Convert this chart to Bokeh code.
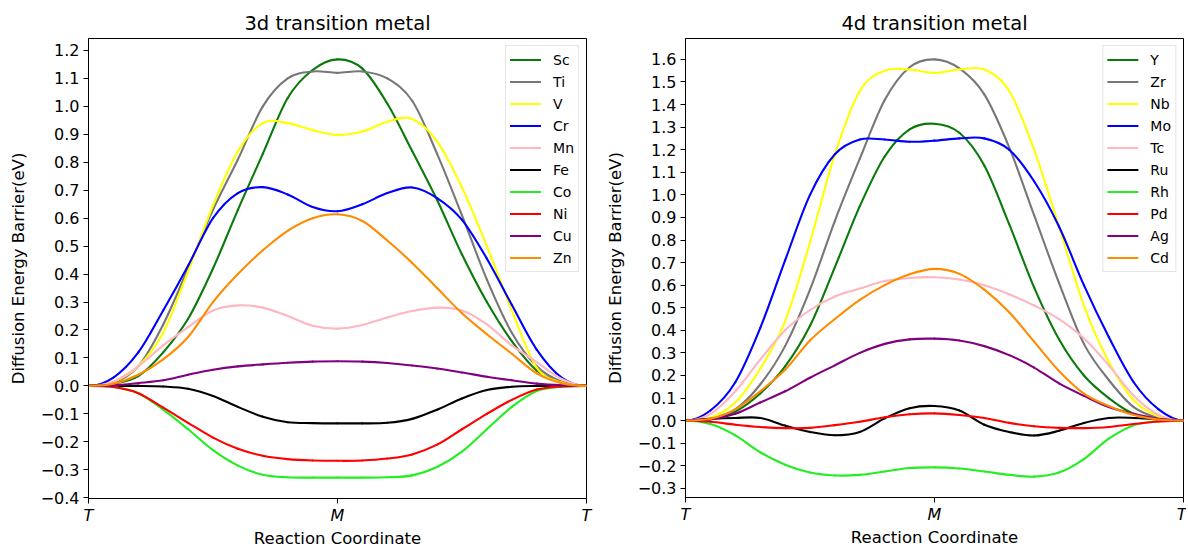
import numpy as np
from bokeh.plotting import figure
from bokeh.layouts import row
from bokeh.models import (ColumnDataSource, Range1d, FixedTicker, CustomJSTickFormatter,
                          Legend, LegendItem)
from bokeh.embed import file_html
from bokeh.resources import INLINE

# ---------------- data ----------------
coord = [0.0, 0.05, 0.1, 0.15, 0.2, 0.25, 0.3, 0.35, 0.4, 0.45, 0.5,
         0.55, 0.6, 0.65, 0.7, 0.75, 0.8, 0.85, 0.9, 0.95, 1.0]
x_tick_pos = [0.0, 0.5, 1.0]
x_tick_labels = ["T", "M", "T"]

yticks_3d = [-0.4, -0.3, -0.2, -0.1, 0.0, 0.1, 0.2, 0.3, 0.4, 0.5, 0.6, 0.7, 0.8,
             0.9, 1.0, 1.1, 1.2]
yticks_4d = [-0.3, -0.2, -0.1, 0.0, 0.1, 0.2, 0.3, 0.4, 0.5, 0.6, 0.7, 0.8, 0.9,
             1.0, 1.1, 1.2, 1.3, 1.4, 1.5, 1.6]

names_3d = ["Sc", "Ti", "V", "Cr", "Mn", "Fe", "Co", "Ni", "Cu", "Zn"]
names_4d = ["Y", "Zr", "Nb", "Mo", "Tc", "Ru", "Rh", "Pd", "Ag", "Cd"]

sc = [0, 0.008, 0.035, 0.12, 0.24, 0.42, 0.63, 0.83, 1.03, 1.13, 1.168,
      1.135, 1.01, 0.84, 0.665, 0.47, 0.30, 0.16, 0.055, 0.012, 0]
ti = [0, 0.012, 0.07, 0.22, 0.42, 0.63, 0.81, 1.0, 1.1, 1.125, 1.12,
      1.125, 1.10, 1.02, 0.83, 0.61, 0.38, 0.19, 0.07, 0.015, 0]
v = [0, 0.015, 0.07, 0.19, 0.41, 0.645, 0.84, 0.94, 0.94, 0.915, 0.898,
     0.91, 0.945, 0.955, 0.875, 0.71, 0.50, 0.27, 0.065, 0.012, 0]
cr = [0, 0.03, 0.12, 0.27, 0.43, 0.60, 0.69, 0.711, 0.685, 0.64, 0.625,
      0.65, 0.69, 0.71, 0.672, 0.594, 0.455, 0.29, 0.13, 0.03, 0]
mn = [0, 0.015, 0.07, 0.145, 0.21, 0.27, 0.288, 0.28, 0.25, 0.215, 0.205,
      0.218, 0.245, 0.268, 0.28, 0.27, 0.22, 0.145, 0.085, 0.025, 0]
fe = [0, 0, 0, -0.002, -0.01, -0.036, -0.075, -0.11, -0.13, -0.133, -0.134,
      -0.134, -0.132, -0.118, -0.085, -0.045, -0.015, -0.003, 0, 0, 0]
co = [0, -0.004, -0.026, -0.085, -0.155, -0.23, -0.285, -0.318, -0.327, -0.328, -0.328,
      -0.328, -0.327, -0.32, -0.29, -0.235, -0.155, -0.075, -0.018, -0.003, 0]
ni = [0, -0.004, -0.026, -0.078, -0.132, -0.185, -0.225, -0.25, -0.262, -0.267, -0.268,
      -0.267, -0.26, -0.245, -0.21, -0.155, -0.1, -0.05, -0.013, -0.002, 0]
cu = [0, 0.002, 0.01, 0.02, 0.04, 0.058, 0.07, 0.077, 0.083, 0.087, 0.088,
      0.087, 0.082, 0.073, 0.062, 0.048, 0.033, 0.02, 0.008, 0.002, 0]
zn = [0, 0.008, 0.04, 0.095, 0.175, 0.30, 0.40, 0.485, 0.555, 0.60, 0.614,
      0.59, 0.52, 0.44, 0.35, 0.26, 0.185, 0.115, 0.045, 0.01, 0]

y_ = [0, 0.008, 0.04, 0.12, 0.24, 0.42, 0.68, 0.95, 1.17, 1.29, 1.315,
      1.275, 1.13, 0.87, 0.59, 0.36, 0.2, 0.1, 0.03, 0.005, 0]
zr = [0, 0.01, 0.05, 0.16, 0.33, 0.58, 0.885, 1.16, 1.42, 1.565, 1.60,
      1.56, 1.445, 1.21, 0.91, 0.61, 0.34, 0.18, 0.06, 0.012, 0]
nb = [0, 0.012, 0.08, 0.23, 0.44, 0.79, 1.18, 1.46, 1.55, 1.555, 1.54,
      1.555, 1.555, 1.46, 1.2, 0.86, 0.51, 0.26, 0.09, 0.018, 0]
mo = [0, 0.045, 0.17, 0.41, 0.71, 1.0, 1.18, 1.245, 1.245, 1.235, 1.24,
      1.25, 1.25, 1.2, 1.06, 0.86, 0.6, 0.37, 0.17, 0.05, 0]
tc = [0, 0.03, 0.13, 0.27, 0.40, 0.49, 0.55, 0.585, 0.618, 0.632, 0.635,
      0.625, 0.60, 0.56, 0.51, 0.45, 0.365, 0.245, 0.11, 0.025, 0]
ru = [0, 0.008, 0.012, 0.012, -0.022, -0.05, -0.065, -0.05, 0.01, 0.055, 0.065,
      0.045, -0.018, -0.05, -0.066, -0.045, -0.01, 0.012, 0.012, 0.005, 0]
rh = [0, -0.015, -0.065, -0.14, -0.195, -0.23, -0.243, -0.24, -0.225, -0.21, -0.207,
      -0.212, -0.225, -0.24, -0.248, -0.23, -0.17, -0.08, -0.02, -0.003, 0]
pd_ = [0, -0.005, -0.018, -0.028, -0.033, -0.032, -0.02, -0.005, 0.015, 0.028, 0.032,
       0.025, 0.012, -0.01, -0.025, -0.032, -0.033, -0.028, -0.015, -0.004, 0]
ag = [0, 0.005, 0.03, 0.08, 0.13, 0.19, 0.245, 0.3, 0.34, 0.36, 0.363,
      0.355, 0.33, 0.29, 0.235, 0.165, 0.11, 0.06, 0.03, 0.008, 0]
cd = [0, 0.008, 0.05, 0.13, 0.225, 0.355, 0.45, 0.535, 0.60, 0.648, 0.672,
      0.65, 0.58, 0.48, 0.35, 0.22, 0.12, 0.065, 0.025, 0.005, 0]

series_3d = [sc, ti, v, cr, mn, fe, co, ni, cu, zn]
series_4d = [y_, zr, nb, mo, tc, ru, rh, pd_, ag, cd]

colors = ["#0a7a0a", "#777777", "#ffff00", "#0000ff", "#ffb6c1",
          "#000000", "#22ee22", "#ff0000", "#800080", "#ff8c00"]

FONT = "DejaVu Sans"


def bezier_data(xs, ys):
    """Smooth Catmull-Rom path through the read points, as cubic Bezier segments."""
    x = np.asarray(xs, float)
    y = np.asarray(ys, float)
    h0 = x[1] - x[0]
    h1 = x[-1] - x[-2]
    xp = np.concatenate([[x[0] - h0], x, [x[-1] + h1]])
    yp = np.concatenate([[y[1]], y, [y[-2]]])
    p0x, p1x, p2x, p3x = xp[:-3], xp[1:-2], xp[2:-1], xp[3:]
    p0y, p1y, p2y, p3y = yp[:-3], yp[1:-2], yp[2:-1], yp[3:]
    return dict(x0=p1x, y0=p1y, x1=p2x, y1=p2y,
                cx0=p1x + (p2x - p0x) / 6, cy0=p1y + (p2y - p0y) / 6,
                cx1=p2x - (p3x - p1x) / 6, cy1=p2y - (p3y - p1y) / 6)


def panel(title, names, series, yticks, width, height, mbl, mbr, mbt, mbb):
    allv = np.concatenate([np.asarray(s, float) for s in series])
    lo, hi = allv.min(), allv.max()
    pad = 0.05 * (hi - lo)
    p = figure(width=width, height=height, output_backend="svg", toolbar_location=None,
               x_range=Range1d(0, 1), y_range=Range1d(lo - pad, hi + pad),
               min_border_left=mbl, min_border_right=mbr,
               min_border_top=mbt, min_border_bottom=mbb)
    p.grid.visible = False
    p.outline_line_color = "black"
    p.outline_line_width = 1
    p.outline_line_alpha = 1
    p.background_fill_color = "white"
    p.border_fill_color = "white"

    p.title.text = title
    p.title.align = "center"
    p.title.text_font = FONT
    p.title.text_font_size = "19.5px"
    p.title.text_font_style = "normal"
    p.title.text_color = "black"
    p.title.standoff = 8

    for ax in (p.xaxis[0], p.yaxis[0]):
        ax.axis_line_color = "black"
        ax.major_tick_line_color = "black"
        ax.major_tick_out = 5
        ax.major_tick_in = 0
        ax.minor_tick_line_color = None
        ax.major_label_text_font = FONT
        ax.major_label_text_font_size = "16px"
        ax.major_label_text_color = "black"
        ax.axis_label_text_font = FONT
        ax.axis_label_text_font_size = "16.5px"
        ax.axis_label_text_font_style = "normal"
        ax.axis_label_text_color = "black"

    p.xaxis.ticker = FixedTicker(ticks=x_tick_pos)
    p.xaxis.major_label_overrides = {t: lab for t, lab in zip(x_tick_pos, x_tick_labels)}
    p.xaxis.major_label_text_font_style = "italic"
    p.xaxis.major_label_standoff = 2
    p.xaxis.axis_label = "Reaction Coordinate"
    p.xaxis.axis_label_standoff = 1

    p.yaxis.ticker = FixedTicker(ticks=yticks)
    p.yaxis.formatter = CustomJSTickFormatter(
        code="return tick.toFixed(1).replace('-', '\\u2212');")
    p.yaxis.major_label_standoff = 4
    p.yaxis.axis_label = "Diffusion Energy Barrier(eV)"
    p.yaxis.axis_label_standoff = 10

    items = []
    for name, vals, col in zip(names, series, colors):
        src = ColumnDataSource(bezier_data(coord, vals))
        r = p.bezier(x0="x0", y0="y0", x1="x1", y1="y1", cx0="cx0", cy0="cy0",
                     cx1="cx1", cy1="cy1", source=src, line_color=col,
                     line_width=2.1, line_cap="round")
        items.append(LegendItem(label=name, renderers=[r]))

    legend = Legend(items=items, location="top_right", margin=7, padding=4, spacing=3,
                    label_height=19, glyph_height=19, glyph_width=31, label_standoff=12,
                    label_text_font=FONT, label_text_font_size="14px",
                    label_text_color="black",
                    border_line_color="#cccccc", border_line_width=1,
                    background_fill_color="white", background_fill_alpha=0.8)
    p.add_layout(legend)
    return p


p1 = panel("3d transition metal", names_3d, series_3d, yticks_3d, 600, 550, 88, 14, 38, 52)
p2 = panel("4d transition metal", names_4d, series_4d, yticks_4d, 586, 549, 85, 3, 37, 52)

layout = row(p1, p2)
open("out.html", "w").write(file_html(layout, INLINE))
